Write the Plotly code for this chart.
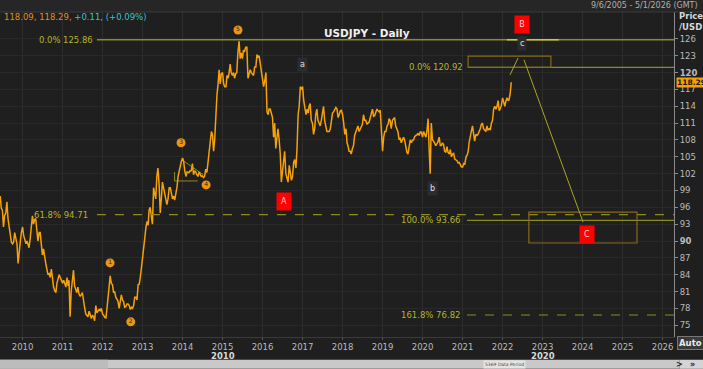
import plotly.graph_objects as go
import pandas as pd

# ---- price data: three samples per month (approx. days 1, 11, 21) ----
start_month = "2009-05"
y2009 = [98.5, 95.5, 94.5, 96.5, 98.0, 95.8, 95.5, 92.5, 94.5, 95.0, 97.0, 94.0,
         92.5, 91.0, 89.8, 89.5, 89.8, 91.5, 90.5, 89.5, 86.0, 88.5, 89.8, 91.5]
y2010 = [92.5, 91.0, 90.2, 89.5, 90.0, 89.0, 88.8, 90.3, 92.5, 94.5, 93.0, 93.8,
         94.0, 92.0, 90.0, 91.5, 91.5, 89.5, 87.5, 88.6, 86.8, 86.0, 85.0, 84.0,
         84.2, 83.5, 85.0, 83.0, 81.8, 81.2, 80.8, 82.5, 83.5, 84.0, 83.5, 83.0]
y2011 = [82.5, 83.0, 82.2, 81.8, 83.5, 82.0, 83.0, 76.5, 81.0, 83.5, 84.8, 82.0,
         81.5, 80.8, 81.8, 80.5, 80.2, 80.4, 80.8, 79.0, 78.2, 77.0, 76.8, 76.5,
         77.5, 76.8, 76.2, 76.8, 76.5, 75.8, 78.5, 77.2, 77.6, 77.8, 77.6, 78.0]
y2012 = [77.0, 76.8, 76.4, 76.3, 78.0, 80.5, 81.5, 83.8, 82.5, 82.2, 80.8, 81.0,
         80.0, 79.6, 79.3, 78.0, 79.6, 80.4, 79.5, 79.2, 78.2, 78.3, 78.8, 78.8,
         78.5, 77.8, 78.2, 78.0, 78.5, 80.0, 80.0, 79.5, 82.2, 82.3, 83.5, 85.5]
y2013 = [87.5, 89.0, 90.5, 92.5, 93.5, 92.8, 95.5, 96.0, 94.5, 93.0, 99.5, 98.5,
         97.5, 101.5, 103.0, 100.0, 95.0, 97.5, 100.5, 99.5, 98.5, 97.5, 96.5, 97.5,
         99.5, 99.5, 98.5, 97.5, 98.0, 97.3, 98.5, 99.6, 101.5, 102.5, 103.5, 104.2]
y2014 = [104.8, 104.2, 102.5, 101.5, 102.3, 102.3, 102.2, 102.5, 102.5, 103.8, 101.8, 102.5,
         102.3, 101.8, 101.5, 102.3, 101.8, 101.5, 101.6, 101.3, 101.5, 102.8, 102.2, 104.0,
         105.5, 107.5, 109.5, 109.0, 106.0, 108.0, 113.5, 116.0, 118.0, 120.5, 118.0, 119.8]
y2015 = [120.0, 118.0, 117.5, 117.5, 119.5, 119.0, 119.8, 121.5, 120.0, 119.5, 120.0, 119.0,
         119.8, 120.0, 123.5, 125.6, 122.5, 123.5, 122.5, 124.0, 123.8, 124.5, 124.5, 119.0,
         119.8, 120.5, 120.0, 119.8, 119.5, 121.0, 121.0, 123.2, 122.8, 123.0, 121.5, 120.3]
y2016 = [119.0, 117.5, 118.5, 120.0, 113.0, 112.5, 113.5, 113.5, 112.8, 112.0, 108.5, 111.0,
         106.5, 109.0, 110.0, 108.0, 105.5, 100.5, 102.5, 104.5, 106.0, 102.0, 101.0, 100.5,
         103.5, 102.5, 100.8, 101.5, 104.0, 104.5, 103.0, 106.5, 112.5, 114.0, 117.5, 117.0]
y2017 = [117.5, 115.0, 113.5, 112.5, 113.5, 112.8, 114.0, 114.5, 111.5, 111.0, 109.0, 110.0,
         112.5, 113.5, 111.5, 111.0, 110.5, 111.5, 112.5, 114.0, 111.5, 110.5, 109.5, 109.5,
         109.5, 110.0, 112.0, 112.8, 113.0, 113.5, 113.8, 113.5, 112.0, 112.5, 113.2, 113.3]
y2018 = [112.5, 111.0, 109.0, 110.0, 107.5, 106.8, 106.0, 106.0, 105.5, 106.5, 107.0, 108.8,
         109.5, 110.0, 110.5, 109.5, 110.0, 110.2, 110.8, 112.5, 111.5, 111.5, 110.8, 111.0,
         111.2, 112.0, 112.8, 113.5, 112.2, 112.3, 113.0, 113.5, 113.2, 113.0, 113.3, 110.5]
y2019 = [106.0, 108.5, 109.5, 109.5, 110.5, 110.8, 111.8, 111.5, 110.0, 111.5, 111.8, 112.0,
         110.5, 109.8, 109.5, 108.0, 108.4, 107.5, 108.0, 108.5, 108.0, 106.5, 105.8, 105.5,
         106.5, 108.0, 107.5, 108.0, 108.0, 108.6, 108.8, 108.9, 109.2, 108.8, 109.4, 109.4]
y2020 = [108.5, 109.5, 109.0, 108.5, 109.8, 111.8, 106.5, 102.0, 111.0, 108.0, 107.8, 107.2,
         107.0, 107.3, 107.7, 108.5, 107.0, 107.0, 107.5, 107.2, 106.0, 105.8, 106.8, 105.8,
         105.5, 106.3, 105.0, 105.5, 105.6, 104.6, 104.5, 104.3, 103.9, 104.0, 103.6, 103.2]
y2021 = [103.2, 103.8, 103.7, 105.0, 105.3, 106.0, 107.5, 108.8, 109.5, 110.5, 109.0, 107.8,
         109.0, 108.8, 109.0, 109.5, 110.0, 110.8, 111.0, 110.0, 109.8, 109.5, 110.5, 109.8,
         110.0, 109.8, 111.0, 111.5, 113.5, 114.0, 113.5, 114.0, 115.0, 113.2, 113.6, 114.2]
y2022 = [115.5, 114.5, 114.0, 115.0, 115.5, 115.0, 115.2, 116.2, 118.29]

prices = y2009 + y2010 + y2011 + y2012 + y2013 + y2014 + y2015 + y2016 + y2017 + y2018 + y2019 + y2020 + y2021 + y2022
n_months = len(prices) // 3
sample_days = [1, 11, 21]
months = pd.date_range(start_month, periods=n_months, freq="MS")
dates = [m + pd.Timedelta(days=d - 1) for m in months for d in sample_days]

# ---- levels and labels ----
fib_top_level = 125.86
fib_c_level = 120.92
fib_618 = 94.71
fib_100 = 93.66
fib_1618 = 76.82
last_price = 118.29
year_ticks = list(range(2010, 2027))
y_ticks = list(range(75, 127, 3))

wave_nums = ["1", "2", "3", "4", "5"]
wave_num_x = ["2012-03-10", "2012-09-15", "2013-12-18", "2014-08-04", "2015-05-22"]
wave_num_y = [86.1, 75.6, 107.5, 100.0, 127.6]

small_letters = ["a", "b", "c"]
small_x = ["2016-12-28", "2020-03-28", "2022-06-28"]
small_y = [121.5, 99.4, 125.1]

big_letters = ["A", "B", "C"]
big_x = ["2016-07-15", "2022-06-30", "2024-02-10"]
big_y = [97.1, 128.5, 91.25]

ORANGE = "#f5a10a"
OLIVE = "#8c8c1e"
OLIVE_TXT = "#b4b42a"
BG = "#1f1f1f"
GRID = "#2e2e2e"

fig = go.Figure()
fig.add_trace(go.Scatter(x=dates, y=prices, mode="lines",
                         line=dict(color=ORANGE, width=1.5), hoverinfo="skip"))

# wave number markers
fig.add_trace(go.Scatter(x=wave_num_x, y=wave_num_y, mode="markers+text", text=wave_nums,
                         textposition="middle center",
                         textfont=dict(color="#3a2500", size=6, family="DejaVu Sans"),
                         marker=dict(color="#e8951a", size=9, line=dict(width=0)),
                         hoverinfo="skip"))

shapes = []
# Fibonacci lines
shapes.append(dict(type="line", xref="x", yref="y", x0="2011-11-11", x1="2026-05-01",
                   y0=fib_top_level, y1=fib_top_level, line=dict(color=OLIVE, width=1.5)))
shapes.append(dict(type="line", xref="x", yref="y", x0="2022-02-10", x1="2023-05-29",
                   y0=fib_top_level, y1=fib_top_level, line=dict(color="#c8c832", width=1.5)))
shapes.append(dict(type="line", xref="x", yref="y", x0="2021-02-20", x1="2026-05-01",
                   y0=fib_c_level, y1=fib_c_level, line=dict(color=OLIVE, width=1.2)))
shapes.append(dict(type="line", xref="x", yref="y", x0="2011-11-11", x1="2026-05-01",
                   y0=fib_618, y1=fib_618, line=dict(color=OLIVE, width=1.2, dash="dash")))
shapes.append(dict(type="line", xref="x", yref="y", x0="2021-02-10", x1="2026-05-01",
                   y0=fib_100, y1=fib_100, line=dict(color=OLIVE, width=1.2)))
shapes.append(dict(type="line", xref="x", yref="y", x0="2021-02-10", x1="2026-05-01",
                   y0=fib_1618, y1=fib_1618, line=dict(color=OLIVE, width=1.2, dash="dash")))
# target boxes
shapes.append(dict(type="rect", xref="x", yref="y", x0="2021-02-20", x1="2023-03-18",
                   y0=fib_c_level, y1=122.95, line=dict(color="#8a6a1a", width=1.2)))
shapes.append(dict(type="rect", xref="x", yref="y", x0="2022-08-29", x1="2025-05-12",
                   y0=89.65, y1=95.15, line=dict(color="#8a6a1a", width=1.2)))
# projection lines
shapes.append(dict(type="line", xref="x", yref="y", x0="2022-03-10", x1="2022-05-22",
                   y0=119.6, y1=122.6, line=dict(color="#a8a820", width=1)))
shapes.append(dict(type="line", xref="x", yref="y", x0="2022-07-15", x1="2024-01-05",
                   y0=122.3, y1=93.4, line=dict(color="#a8a820", width=1)))
# small triangle near wave 4
shapes.append(dict(type="line", xref="x", yref="y", x0="2014-01-15", x1="2014-07-10",
                   y0=104.2, y1=101.8, line=dict(color="#a8a820", width=0.8)))
shapes.append(dict(type="line", xref="x", yref="y", x0="2013-10-20", x1="2014-05-20",
                   y0=100.7, y1=100.7, line=dict(color="#a8a820", width=0.8)))
shapes.append(dict(type="line", xref="x", yref="y", x0="2013-10-20", x1="2013-10-20",
                   y0=100.7, y1=102.3, line=dict(color="#a8a820", width=0.8)))
# bottom scrollbar
shapes.append(dict(type="rect", xref="paper", yref="paper", x0=0, x1=1.008, y0=-0.098, y1=-0.07,
                   line=dict(width=0), fillcolor="#c9c9c9", layer="above"))
shapes.append(dict(type="rect", xref="paper", yref="paper", x0=0, x1=0.16, y0=-0.098, y1=-0.07,
                   line=dict(width=0), fillcolor="#bcbcbc", layer="above"))
shapes.append(dict(type="rect", xref="paper", yref="paper", x0=1.008, x1=1.043, y0=-0.098, y1=-0.07,
                   line=dict(width=0), fillcolor="#d4d4d4", layer="above"))
# top band
shapes.append(dict(type="rect", xref="paper", yref="paper", x0=-0.01, x1=1.05, y0=1.0, y1=1.04,
                   line=dict(width=0), fillcolor="#262626", layer="below"))
shapes.append(dict(type="line", xref="paper", yref="paper", x0=-0.01, x1=1.05, y0=1.0, y1=1.0,
                   line=dict(color="#3a3a3a", width=1)))

ann = []
def A(**kw):
    ann.append(kw)

fs = 8.5
A(x="2011-01-01", y=fib_top_level, xref="x", yref="y", text="0.0%", xanchor="right", showarrow=False,
  font=dict(color=OLIVE_TXT, size=fs))
A(x="2011-10-23", y=fib_top_level, xref="x", yref="y", text="125.86", xanchor="right", showarrow=False,
  font=dict(color=OLIVE_TXT, size=fs))
A(x="2020-04-05", y=fib_c_level, xref="x", yref="y", text="0.0%", xanchor="right", showarrow=False,
  font=dict(color=OLIVE_TXT, size=fs))
A(x="2021-01-23", y=fib_c_level, xref="x", yref="y", text="120.92", xanchor="right", showarrow=False,
  font=dict(color=OLIVE_TXT, size=fs))
A(x="2011-09-08", y=fib_618, xref="x", yref="y", text="61.8% 94.71", xanchor="right", showarrow=False,
  font=dict(color=OLIVE_TXT, size=fs))
A(x="2020-12-28", y=fib_100, xref="x", yref="y", text="100.0% 93.66", xanchor="right", showarrow=False,
  font=dict(color=OLIVE_TXT, size=fs))
A(x="2020-12-28", y=fib_1618, xref="x", yref="y", text="161.8% 76.82", xanchor="right", showarrow=False,
  font=dict(color=OLIVE_TXT, size=fs))

for t, xx, yy in zip(small_letters, small_x, small_y):
    A(x=xx, y=yy, xref="x", yref="y", text=t, showarrow=False, bgcolor="#2c2c2c",
      font=dict(color="#e0e0e0", size=8), borderpad=2)
for t, xx, yy in zip(big_letters, big_x, big_y):
    A(x=xx, y=yy, xref="x", yref="y", text=t, showarrow=False, bgcolor="#ff0000",
      font=dict(color="#ffd0d0", size=8), width=12, height=15)

# header texts
A(x=0.003, y=1.0 - 5 / 325, xref="paper", yref="paper", xanchor="left", yanchor="middle", showarrow=False,
  text="<span style='color:#e0901a'>118.09, 118.29, </span><span style='color:#2ec8d0'>+0.11, (+0.09%)</span>",
  font=dict(size=8.5))
A(x=0.545, y=1.0 - 13 / 325, xref="paper", yref="paper", xanchor="center", showarrow=False,
  text="<b>USDJPY - Daily</b>", font=dict(color="#f0f0f0", size=10.5))
A(x=1.038, y=1.0 + 6.5 / 325, xref="paper", yref="paper", xanchor="right", yanchor="middle", showarrow=False,
  text="9/6/2005 - 5/1/2026 (GMT)", font=dict(color="#b0b0b0", size=8))
A(x=1.005, y=0.988, xref="paper", yref="paper", xanchor="left", yanchor="middle", showarrow=False,
  text="<b>Price</b>", font=dict(color="#d8d8d8", size=8.5))
A(x=1.005, y=0.955, xref="paper", yref="paper", xanchor="left", yanchor="middle", showarrow=False,
  text="<b>/USD</b>", font=dict(color="#d8d8d8", size=8.5))
A(x=1.003, y=last_price, xref="paper", yref="y", xanchor="left", yanchor="middle", showarrow=False,
  text="<b>118.29</b>", bgcolor="#f5a000", font=dict(color="#1a1a1a", size=7.5), borderpad=0, height=9)
A(x=1.005, y=-0.017, xref="paper", yref="paper", xanchor="left", yanchor="middle", showarrow=False,
  text="<b>Auto</b>", bgcolor="#3a3a3a", bordercolor="#777", borderwidth=1, borderpad=1,
  font=dict(color="#e8e8e8", size=8.5))
# decade labels
A(x="2015-01-01", y=-0.057, xref="x", yref="paper", yanchor="middle", showarrow=False,
  text="<b>2010</b>", font=dict(color="#d8d8d8", size=8.5))
A(x="2023-01-01", y=-0.057, xref="x", yref="paper", yanchor="middle", showarrow=False,
  text="<b>2020</b>", font=dict(color="#d8d8d8", size=8.5))
A(x=0.78, y=-0.084, xref="paper", yref="paper", yanchor="middle", showarrow=False,
  text="5369 Data Period", font=dict(color="#444", size=4.5), bgcolor="#e4e4e4")
A(x=1.017, y=-0.084, xref="paper", yref="paper", yanchor="middle", showarrow=False,
  text="<b>&gt;</b>", font=dict(color="#222", size=8))
A(x=1.034, y=-0.084, xref="paper", yref="paper", yanchor="middle", showarrow=False,
  text="<b>&#187;</b>", font=dict(color="#222", size=8))

y_text = [f"<b>{v}</b>" if v in (90, 120) else str(v) for v in y_ticks]

fig.update_layout(
    width=703, height=369,
    margin=dict(l=0, r=29, t=12, b=32),
    paper_bgcolor=BG, plot_bgcolor=BG,
    showlegend=False,
    font=dict(family="DejaVu Sans, sans-serif", color="#bbbbbb"),
    shapes=shapes, annotations=ann,
    xaxis=dict(type="date", range=["2009-06-09", "2026-04-15"],
               tickvals=[f"{y}-01-01" for y in year_ticks], ticktext=[str(y) for y in year_ticks],
               showgrid=True, gridcolor=GRID, gridwidth=1, zeroline=False,
               showline=True, linecolor="#3a3a3a",
               ticks="outside", ticklen=2, tickcolor="#555",
               tickfont=dict(size=8.5, color="#bbbbbb")),
    yaxis=dict(side="right", range=[72.9, 130.8], tickvals=y_ticks, ticktext=y_text,
               showgrid=True, gridcolor="#292929", zeroline=False,
               showline=True, linecolor="#8a8a8a", linewidth=1,
               ticks="outside", ticklen=3, tickcolor="#8a8a8a",
               tickfont=dict(size=8.5, color="#bbbbbb")),
)

fig.write_html("out.html", config={"displayModeBar": False},
               post_script="document.body.style.margin='0';document.body.style.padding='0';"
                           "document.body.style.background='#1f1f1f';document.body.style.overflow='hidden';")
